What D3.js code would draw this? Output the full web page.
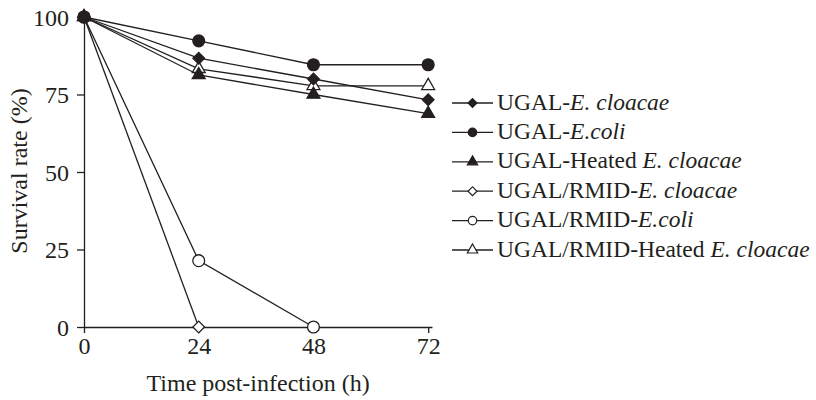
<!DOCTYPE html>
<html>
<head>
<meta charset="utf-8">
<script src="https://cdn.jsdelivr.net/npm/d3@7"></script>
<style>
  body { margin: 0; background: #fff; }
  text { font-family: "Liberation Serif", "Times New Roman", serif; fill: #231f20; }
</style>
</head>
<body>
<div id="chart"></div>
<script>
// Data
const times = [0, 24, 48, 72];
const yTicks = [0, 25, 50, 75, 100];
const seriesNames = [
  ["UGAL-", "E. cloacae"],
  ["UGAL-", "E.coli"],
  ["UGAL-Heated ", "E. cloacae"],
  ["UGAL/RMID-", "E. cloacae"],
  ["UGAL/RMID-", "E.coli"],
  ["UGAL/RMID-Heated ", "E. cloacae"]
];
const ugalCloacae = [100, 86.7, 80, 73.3];
const ugalColi = [100, 92.3, 84.6, 84.6];
const ugalHeated = [100, 81.3, 75, 68.8];
const rmidCloacae = [100, 0, null, null];
const rmidColi = [100, 21.4, 0, null];
const rmidHeated = [100, 83.3, 77.8, 77.8];
const seriesValues = [ugalCloacae, ugalColi, ugalHeated, rmidCloacae, rmidColi, rmidHeated];
const shapes = ["diamond", "circle", "triangle", "diamond", "circle", "triangle"];
const filled = [true, true, true, false, false, false];

const width = 816;
const height = 400;
const ink = "#231f20";

const svg = d3.select("#chart").append("svg")
  .attr("width", width)
  .attr("height", height);

const xScale = d3.scaleLinear().domain([0, 72.8]).range([84, 432]);
const yScale = d3.scaleLinear().domain([0, 100]).range([327, 17]);

// symbol path for a marker type
function markerPath(shape, big) {
  if (shape === "circle") return d3.symbol(d3.symbolCircle, big ? 110 : 56)();
  if (shape === "triangle") return d3.symbol(d3.symbolTriangle, big ? 72 : 46)();
  return d3.symbol(d3.symbolSquare, big ? 68 : 40)();
}
function markerRotate(shape) {
  return shape === "diamond" ? " rotate(45)" : "";
}

// axes
const yAxis = svg.append("g")
  .attr("transform", `translate(${xScale(0)},0)`)
  .call(d3.axisLeft(yScale).tickValues(yTicks).tickSize(7).tickPadding(8).tickSizeOuter(0));
yAxis.selectAll("text").style("font-size", "24px").attr("dy", "0.34em");

const xAxis = svg.append("g")
  .attr("transform", `translate(0,${yScale(0)})`)
  .call(d3.axisBottom(xScale).tickValues(times).tickSize(6).tickPadding(4).tickSizeOuter(0));
xAxis.selectAll("text").style("font-size", "24px");

svg.selectAll(".domain, .tick line").attr("stroke", ink).attr("stroke-width", 1.3);

// axis titles
svg.append("text")
  .attr("x", (xScale(0) + xScale(72)) / 2 + 2)
  .attr("y", 391)
  .attr("text-anchor", "middle")
  .style("font-size", "24px")
  .text("Time post-infection (h)");

svg.append("text")
  .attr("transform", `translate(27,${yScale(50) - 1}) rotate(-90)`)
  .attr("text-anchor", "middle")
  .style("font-size", "24px")
  .text("Survival rate (%)");

// lines and markers
const line = d3.line()
  .defined((d) => d.v !== null)
  .x((d) => xScale(d.t))
  .y((d) => yScale(d.v));

const drawOrder = [3, 4, 5, 2, 0, 1];
drawOrder.forEach((i) => {
  const pts = times.map((t, j) => ({ t: t, v: seriesValues[i][j] }));
  const g = svg.append("g");
  g.append("path")
    .datum(pts)
    .attr("fill", "none")
    .attr("stroke", ink)
    .attr("stroke-width", 1.3)
    .attr("d", line);
  g.selectAll("path.mark")
    .data(pts.filter((d) => d.v !== null))
    .enter()
    .append("path")
    .attr("class", "mark")
    .attr("transform", (d) => `translate(${xScale(d.t)},${yScale(d.v)})${markerRotate(shapes[i])}`)
    .attr("d", markerPath(shapes[i], true))
    .attr("fill", filled[i] ? ink : "#fff")
    .attr("stroke", ink)
    .attr("stroke-width", 1.3);
});

// legend
const legend = svg.append("g").attr("transform", "translate(452,103)");
seriesNames.forEach((name, i) => {
  const row = legend.append("g").attr("transform", `translate(0,${i * 29.4})`);
  row.append("line")
    .attr("x1", 0).attr("x2", 41)
    .attr("stroke", ink).attr("stroke-width", 1.3);
  row.append("path")
    .attr("transform", `translate(20.5,0)${markerRotate(shapes[i])}`)
    .attr("d", markerPath(shapes[i], false))
    .attr("fill", filled[i] ? ink : "#fff")
    .attr("stroke", ink)
    .attr("stroke-width", 1.2);
  const t = row.append("text")
    .attr("x", 45)
    .attr("dy", "0.28em")
    .style("font-size", "23.5px");
  t.append("tspan").text(name[0]);
  t.append("tspan").style("font-style", "italic").text(name[1]);
});
</script>
</body>
</html>
